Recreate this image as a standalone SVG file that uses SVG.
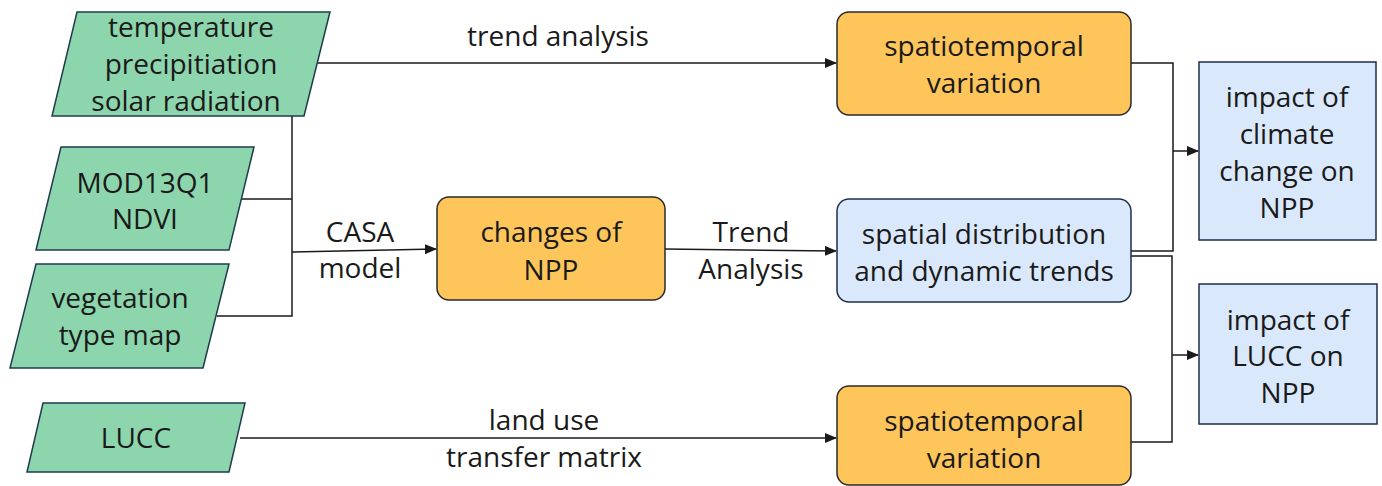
<svg xmlns="http://www.w3.org/2000/svg" width="1382" height="486" viewBox="0 0 1382 486">
<style>
text{font-family:"Open Sans","Noto Sans","Liberation Sans",sans-serif;font-size:28px;fill:#1a1a1a;text-anchor:middle}
.g{fill:#8dd5ad;stroke:#1f3b4d;stroke-width:1.5}
.o{fill:#fdc55a;stroke:#2a2a2a;stroke-width:1.5}
.b{fill:#dae8fc;stroke:#1f2d4d;stroke-width:1.5}
.c{fill:none;stroke:#1a1a1a;stroke-width:1.5}
</style>
<defs>
<marker id="ar" markerWidth="12" markerHeight="10" refX="11" refY="5" orient="auto" markerUnits="userSpaceOnUse">
<path d="M0,0 L12,5 L0,10 Z" fill="#1a1a1a"/>
</marker>
</defs>
<rect width="1382" height="486" fill="#ffffff"/>
<g id="connectors">
<polyline class="c" points="292,116 292,316 217,316"/>
<line class="c" x1="242" y1="199" x2="292" y2="199"/>
<line class="c" x1="292" y1="252" x2="436" y2="249" marker-end="url(#ar)"/>
<line class="c" x1="318" y1="63" x2="836" y2="63" marker-end="url(#ar)"/>
<line class="c" x1="665" y1="249" x2="836" y2="251" marker-end="url(#ar)"/>
<line class="c" x1="240" y1="438" x2="836" y2="438" marker-end="url(#ar)"/>
<polyline class="c" points="1131,63 1173,63 1173,251 1131,251"/>
<line class="c" x1="1173" y1="151" x2="1198" y2="151" marker-end="url(#ar)"/>
<polyline class="c" points="1131,256 1172,256 1172,442 1131,442"/>
<line class="c" x1="1172" y1="355" x2="1198" y2="355" marker-end="url(#ar)"/>
<text x="558" y="46">trend analysis</text>
<text x="360" y="242">CASA</text>
<text x="360" y="278">model</text>
<text x="751" y="242">Trend</text>
<text x="751" y="279">Analysis</text>
<text x="544" y="430">land use</text>
<text x="544" y="467">transfer matrix</text>
</g>
<g id="n-climate">
<polygon class="g" points="77,12 330,12 304,116 52,116"/>
<text x="191" y="37">temperature</text>
<text x="191" y="74">precipitiation</text>
<text x="186" y="111">solar radiation</text>
</g>
<g id="n-mod">
<polygon class="g" points="61,147 254,147 229,250 36,250"/>
<text x="145" y="193">MOD13Q1</text>
<text x="145" y="229">NDVI</text>
</g>
<g id="n-veg">
<polygon class="g" points="36,264 229,264 203,368 10,368"/>
<text x="120" y="308">vegetation</text>
<text x="120" y="345">type map</text>
</g>
<g id="n-lucc">
<polygon class="g" points="43,403 245,403 229,472 27,472"/>
<text x="136" y="448">LUCC</text>
</g>
<g id="n-changes">
<rect class="o" x="437" y="197" width="228" height="103" rx="12"/>
<text x="551" y="242">changes of</text>
<text x="551" y="280">NPP</text>
</g>
<g id="n-spatio1">
<rect class="o" x="837" y="12" width="294" height="103" rx="12"/>
<text x="984" y="56">spatiotemporal</text>
<text x="984" y="93">variation</text>
</g>
<g id="n-spatial">
<rect class="b" x="837" y="199" width="294" height="103" rx="12"/>
<text x="984" y="244">spatial distribution</text>
<text x="984" y="281">and dynamic trends</text>
</g>
<g id="n-spatio2">
<rect class="o" x="837" y="386" width="294" height="99" rx="12"/>
<text x="984" y="431">spatiotemporal</text>
<text x="984" y="468">variation</text>
</g>
<g id="n-impact1">
<rect class="b" x="1199" y="62" width="177" height="178"/>
<text x="1287" y="107">impact of</text>
<text x="1287" y="144">climate</text>
<text x="1287" y="181">change on</text>
<text x="1287" y="218">NPP</text>
</g>
<g id="n-impact2">
<rect class="b" x="1199" y="284" width="178" height="140"/>
<text x="1288" y="330">impact of</text>
<text x="1288" y="366">LUCC on</text>
<text x="1288" y="403">NPP</text>
</g>
</svg>
